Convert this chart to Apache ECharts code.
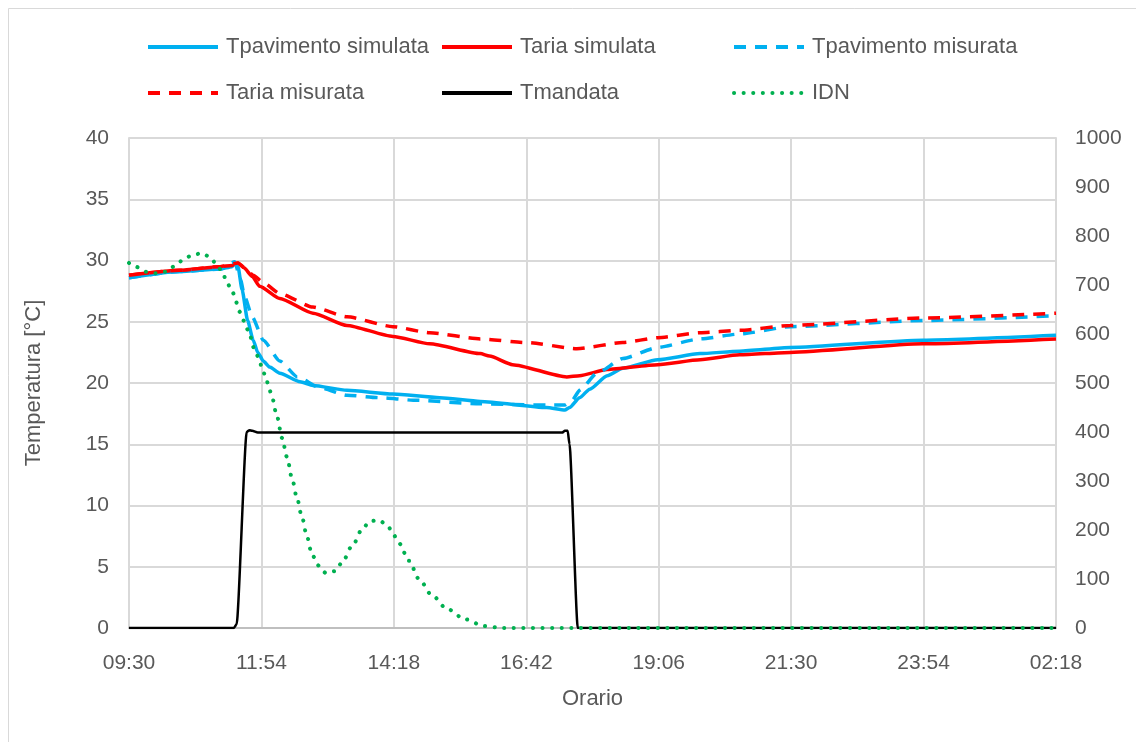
<!DOCTYPE html>
<html>
<head>
<meta charset="utf-8">
<script src="https://cdn.jsdelivr.net/npm/echarts@6/dist/echarts.min.js"></script>
<style>
html,body{margin:0;padding:0;background:#fff;}
#c{width:1136px;height:742px;}
</style>
</head>
<body>
<div id="c"></div>
<script>
// x values: minutes elapsed since 09:30
const startMinutes = 9 * 60 + 30;
const xTicks = ['09:30','11:54','14:18','16:42','19:06','21:30','23:54','02:18'];

const tpavSim = [
  [0,28.6],[55,29.1],[99,29.3],[112,29.5],[115,29.8],[118.5,29.5],[123,27.6],[129,25.1],
  [135,23.5],[140,22.5],[146,21.8],[153,21.3],[164,20.8],[186,20.1],[200,19.8],[237,19.4],
  [287,19.1],[338,18.8],[382,18.5],[454,18.0],[474,17.8],[479,18.0],[490,18.8],
  [501,19.5],[520,20.6],[537,21.2],[575,21.9],[621,22.4],[664,22.6],[719,22.9],[863,23.5],[1008,23.9]
];
const tariaSim = [
  [0,28.8],[55,29.2],[99,29.5],[112,29.6],[118.5,29.8],[125,29.4],[134,28.7],[142,27.9],[164,26.9],
  [200,25.7],[237,24.7],[287,23.8],[327,23.2],[382,22.4],[392,22.2],[417,21.5],[476,20.5],
  [490,20.6],[520,21.1],[575,21.5],[621,21.9],[664,22.3],[719,22.5],[863,23.2],[1008,23.6]
];
const tpavMis = [
  [0,28.6],[55,29.1],[99,29.3],[115,29.9],[121,28.5],[126,27.0],[134,25.4],[146,23.5],[164,21.8],
  [183,20.5],[208,19.6],[237,19.0],[273,18.8],[309,18.6],[382,18.3],[454,18.2],[474,18.2],
  [482,18.6],[490,19.4],[509,20.8],[537,22.0],[575,22.9],[621,23.6],[664,24.0],[719,24.6],
  [863,25.1],[1008,25.5]
];
const tariaMis = [
  [0,28.8],[55,29.2],[99,29.5],[118.5,29.8],[126,29.4],[135,28.8],[146,28.2],[164,27.3],[200,26.2],
  [237,25.4],[287,24.6],[327,24.1],[382,23.6],[433,23.3],[487,22.8],[537,23.3],[575,23.7],
  [621,24.1],[664,24.3],[719,24.7],[863,25.3],[1008,25.7]
];
const tmandata = [
  [0,0],[114,0],[117,0.3],[128,16.0],[131,16.15],[134,16.1],[140,15.95],[471,15.95],[474,16.1],
  [477,16.1],[479,15.0],[488,0],[1008,0]
];
const idn = [
  [0,745],[7.6,737],[18.5,727],[29.4,724],[40.2,727],[50,739],[58.7,751],[68.5,761],[79.4,765],
  [88,757],[95.7,741],[102,724],[106.6,704],[113,684],[116.4,665],[120.7,645],[125,627],[129.4,608],
  [137,567],[141.4,549],[144.6,531],[149,510],[152.2,490],[155.5,471],[161,431],[166.4,388],
  [171.8,349],[177.2,306],[182.7,265],[188,227],[193.6,186],[199,149],[206.6,127],[214.2,112],
  [224,116],[231.6,133],[242.5,167],[254.4,204],[262,218],[271.8,220],[281.6,208],[287,192],
  [293.6,173],[304.5,137],[315.3,100],[329.4,67],[345.8,39],[365.4,18],[386,4],[406.7,0],[1008,0]
];

const names = ['Tpavimento simulata','Taria simulata','Tpavimento misurata','Taria misurata','Tmandata','IDN'];
const FONT = "'Liberation Sans', Arial, sans-serif";
const TXT = '#595959';

function fmt(v){
  const t = (startMinutes + Math.round(v)) % 1440;
  const h = Math.floor(t/60), m = t%60;
  return (h<10?'0':'')+h+':'+(m<10?'0':'')+m;
}

const legendPos = [[146,36],[440,36],[732,36],[146,82],[440,82],[732,82]];
const legends = names.map((n,i)=>({
  data:[n], left:legendPos[i][0], top:legendPos[i][1], itemWidth:70, itemHeight:14,
  padding:0, selectedMode:false,
  itemStyle:{opacity:0},
  lineStyle:{width:4},
  textStyle:{fontFamily:FONT,fontSize:22,color:TXT,padding:[0,0,0,3]}
}));

const chart = echarts.init(document.getElementById('c'));
chart.setOption({
  animation:false,
  backgroundColor:'#fff',
  graphic:[{type:'rect',shape:{x:8.5,y:8.5,width:1140,height:740},style:{fill:'none',stroke:'#d9d9d9',lineWidth:1}}],
  legend:legends,
  grid:{left:129,right:80,top:138,bottom:114},
  xAxis:{
    type:'value',min:0,max:1008,interval:144,
    name:'Orario',nameLocation:'middle',nameGap:60,
    nameTextStyle:{fontFamily:FONT,fontSize:22,color:TXT},
    axisLine:{show:true,lineStyle:{color:'#bfbfbf',width:2}},
    axisTick:{show:false},
    splitLine:{show:true,lineStyle:{color:'#d9d9d9',width:2}},
    axisLabel:{formatter:(v)=>fmt(v),fontFamily:FONT,fontSize:21,color:TXT,margin:25}
  },
  yAxis:[{
    type:'value',min:0,max:40,interval:5,
    name:'Temperatura [°C]',nameLocation:'middle',nameGap:84,
    nameTextStyle:{fontFamily:FONT,fontSize:22,color:TXT},
    axisLine:{show:true,lineStyle:{color:'#d9d9d9',width:2}},
    axisTick:{show:false},
    splitLine:{show:true,lineStyle:{color:'#d9d9d9',width:2}},
    axisLabel:{fontFamily:FONT,fontSize:21,color:TXT,margin:20}
  },{
    type:'value',min:0,max:1000,interval:100,position:'right',
    axisLine:{show:true,lineStyle:{color:'#d9d9d9',width:2}},
    axisTick:{show:false},
    splitLine:{show:false},
    axisLabel:{fontFamily:FONT,fontSize:21,color:TXT,margin:19,formatter:(v)=>String(v)}
  }],
  series:[
    {name:names[0],type:'line',data:tpavSim,symbol:'none',smooth:0.2,smoothMonotone:'x',
     lineStyle:{color:'#00B0F0',width:3.5},itemStyle:{color:'#00B0F0'}},
    {name:names[1],type:'line',data:tariaSim,symbol:'none',smooth:0.2,smoothMonotone:'x',
     lineStyle:{color:'#FF0000',width:3.5},itemStyle:{color:'#FF0000'}},
    {name:names[2],type:'line',data:tpavMis,symbol:'none',smooth:0.2,smoothMonotone:'x',
     lineStyle:{color:'#00B0F0',width:3.5,type:[12,9]},itemStyle:{color:'#00B0F0'}},
    {name:names[3],type:'line',data:tariaMis,symbol:'none',smooth:0.2,smoothMonotone:'x',
     lineStyle:{color:'#FF0000',width:3.5,type:[12,9]},itemStyle:{color:'#FF0000'}},
    {name:names[4],type:'line',data:tmandata,symbol:'none',smooth:0.2,smoothMonotone:'x',
     lineStyle:{color:'#000000',width:2.5},itemStyle:{color:'#000000'}},
    {name:names[5],type:'line',yAxisIndex:1,data:idn,symbol:'none',smooth:0.3,smoothMonotone:'x',
     lineStyle:{color:'#00B050',width:4,type:[0.1,9.5],cap:'round'},itemStyle:{color:'#00B050'}}
  ]
});
</script>
</body>
</html>
